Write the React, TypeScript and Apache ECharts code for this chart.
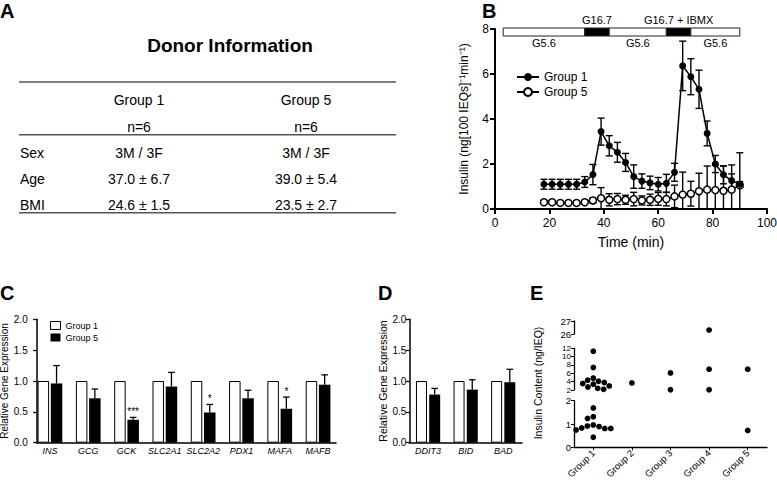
import React, { useEffect, useRef } from 'react';
import * as echarts from 'echarts';

const FONT = '"Liberation Sans", Arial, Helvetica, sans-serif';

// ---------- Panel A: donor information ----------
const tableGroups = ['Group 1', 'Group 5'];
const tableN = ['n=6', 'n=6'];
const rowLabels = ['Sex', 'Age', 'BMI'];
const group1Info = ['3M / 3F', '37.0 ± 6.7', '24.6 ± 1.5'];
const group5Info = ['3M / 3F', '39.0 ± 5.4', '23.5 ± 2.7'];

// ---------- Panel B: perifusion ----------
const timeMin = [18, 21, 24, 27, 30, 33, 36, 39, 42, 45, 48, 51, 54, 57, 60, 63, 66, 69, 72, 75, 78, 81, 84, 87, 90];
const g1Insulin = [1.1, 1.1, 1.1, 1.1, 1.1, 1.2, 1.53, 3.44, 2.81, 2.52, 2.07, 1.44, 1.24, 1.16, 1.1, 1.14, 1.63, 6.36, 5.88, 5.32, 3.36, 2.0, 1.52, 1.26, 1.1];
const g1Sem = [0.22, 0.22, 0.22, 0.22, 0.22, 0.24, 0.45, 0.6, 0.45, 0.44, 0.4, 0.52, 0.32, 0.3, 0.3, 0.4, 0.4, 1.1, 0.8, 0.85, 0.55, 0.38, 0.4, 0.3, 0.12];
const g5Insulin = [0.3, 0.3, 0.27, 0.27, 0.27, 0.3, 0.38, 0.48, 0.41, 0.44, 0.41, 0.44, 0.38, 0.41, 0.45, 0.44, 0.56, 0.64, 0.68, 0.79, 0.86, 0.84, 0.81, 0.86, 1.05];
const g5Sem = [0.08, 0.08, 0.05, 0.05, 0.08, 0.08, 0.1, 0.47, 0.27, 0.25, 0.2, 0.3, 0.2, 0.25, 0.28, 0.3, 0.5, 1.0, 0.55, 0.8, 1.05, 1.1, 1.1, 1.1, 1.45];
const stimStart = [3, 33, 42, 63, 72];
const stimEnd = [33, 42, 63, 72, 90];
const stimLabel = ['G5.6', 'G16.7', 'G5.6', 'G16.7 + IBMX', 'G5.6'];
const stimHigh = [false, true, false, true, false];

// ---------- Panel C ----------
const genesC = ['INS', 'GCG', 'GCK', 'SLC2A1', 'SLC2A2', 'PDX1', 'MAFA', 'MAFB'];
const cGroup1 = [1, 1, 1, 1, 1, 1, 1, 1];
const cGroup5 = [0.96, 0.72, 0.37, 0.91, 0.49, 0.72, 0.55, 0.94];
const cGroup5Err = [0.29, 0.15, 0.04, 0.23, 0.13, 0.13, 0.19, 0.16];
const cSig = ['', '', '***', '', '*', '', '*', ''];

// ---------- Panel D ----------
const genesD = ['DDIT3', 'BID', 'BAD'];
const dGroup1 = [1, 1, 1];
const dGroup5 = [0.78, 0.86, 0.98];
const dGroup5Err = [0.1, 0.16, 0.21];
const dSig = ['', '', ''];

// ---------- Panel E ----------
const groupsE = ['Group 1', 'Group 2', 'Group 3', 'Group 4', 'Group 5'];
const eGroup1 = [11.3, 7.4, 4.85, 4.36, 4.11, 3.79, 3.54, 3.38, 2.98, 2.73, 2.4, 2.16, 1.69, 1.31, 1.24, 0.96, 0.91, 0.89, 0.83, 0.81, 0.81, 0.74, 0.43];
const eGroup2 = [3.7];
const eGroup3 = [6.1, 2.05];
const eGroup4 = [26.3, 7.0, 2.05];
const eGroup5 = [7.0, 0.72];
const eSegMin = [0, 2, 26];
const eSegMax = [2, 12, 27];
const eSegInterval = [1, 2, 1];

// ---------- layout ----------
const gB = { left: 495, top: 29, width: 272, height: 180 };
const gC = { left: 30.8, top: 319.3, width: 306.4, height: 123.4 };
const gCax = { left: 36.7, top: 319.3, width: 299.3, height: 123.4 };
const gD = { left: 409.3, top: 319.3, width: 112.7, height: 123.4 };
const gE = [
  { left: 574, top: 400.7, width: 193, height: 46.6 },
  { left: 574, top: 348.3, width: 193, height: 41.7 },
  { left: 574, top: 321, width: 193, height: 13 },
];

const BLACK = '#000';

function segOf(v: number) {
  if (v < eSegMax[0]) return 0;
  if (v <= eSegMax[1]) return 1;
  return 2;
}
function segPixelY(v: number) {
  const s = segOf(v);
  const g = gE[s];
  return g.top + g.height - ((v - eSegMin[s]) / (eSegMax[s] - eSegMin[s])) * g.height;
}
function swarm(values: number[], d: number) {
  const ys = values.map(segPixelY);
  const order = values.map((_, i) => i).sort((a, b) => ys[a] - ys[b]);
  const placed: { x: number; y: number }[] = [];
  const dx = new Array(values.length).fill(0);
  for (const i of order) {
    const y = ys[i];
    const blockers = placed.filter((p) => Math.abs(p.y - y) < d);
    const cands = [0];
    for (const p of blockers) {
      const w = Math.sqrt(d * d - (p.y - y) * (p.y - y));
      cands.push(p.x - w, p.x + w);
    }
    cands.sort((a, b) => Math.abs(a) - Math.abs(b));
    let chosen = 0;
    for (const c of cands) {
      if (blockers.every((p) => Math.hypot(p.x - c, p.y - y) >= d - 1e-6)) {
        chosen = c;
        break;
      }
    }
    dx[i] = chosen;
    placed.push({ x: chosen, y });
  }
  return dx;
}

function txt(x: number, y: number, text: string, size: number, opts: any = {}) {
  return {
    type: 'text',
    x,
    y,
    rotation: opts.rotation || 0,
    style: {
      text,
      fill: BLACK,
      font: `${opts.bold ? 'bold ' : ''}${size}px ${FONT}`,
      align: opts.align || 'left',
      verticalAlign: opts.va || 'middle',
    },
  };
}

function hline(x1: number, x2: number, y: number) {
  return { type: 'line', shape: { x1, y1: y, x2, y2: y }, style: { stroke: '#555', lineWidth: 1.6 } };
}

function buildOption() {
  const graphic: any[] = [];
  graphic.push(txt(0, 1, 'A', 20, { bold: true, va: 'top' }));
  graphic.push(txt(482, 1, 'B', 20, { bold: true, va: 'top' }));
  graphic.push(txt(0, 283, 'C', 20, { bold: true, va: 'top' }));
  graphic.push(txt(378, 283, 'D', 20, { bold: true, va: 'top' }));
  graphic.push(txt(530, 283, 'E', 20, { bold: true, va: 'top' }));
  graphic.push(txt(230, 45, 'Donor Information', 19, { bold: true, align: 'center' }));
  graphic.push(hline(19, 396, 82));
  graphic.push(hline(19, 396, 134.7));
  graphic.push(hline(19, 396, 212.7));
  const colX = [139, 306];
  tableGroups.forEach((g, i) => graphic.push(txt(colX[i], 100, g, 14, { align: 'center' })));
  tableN.forEach((n, i) => graphic.push(txt(colX[i], 127, n, 14, { align: 'center' })));
  const rowY = [153, 179, 205];
  rowLabels.forEach((r, i) => {
    graphic.push(txt(20, rowY[i], r, 14));
    graphic.push(txt(colX[0], rowY[i], group1Info[i], 14, { align: 'center' }));
    graphic.push(txt(colX[1], rowY[i], group5Info[i], 14, { align: 'center' }));
  });
  graphic.push(txt(538, 383, 'Insulin Content (ng/IEQ)', 10.5, { align: 'center', rotation: Math.PI / 2 }));

  const gridBase = { containLabel: false, outerBoundsMode: 'none' };
  const grid = [gB, gC, gCax, gD, gE[0], gE[1], gE[2]].map((g) => ({ ...gridBase, ...g }));

  const line = (w: number) => ({ show: true, onZero: false, lineStyle: { color: BLACK, width: w } });
  const tick = (len: number, w: number) => ({ show: true, inside: false, length: len, lineStyle: { color: BLACK, width: w } });
  const lab = (size: number, margin: number, extra: any = {}) => ({
    show: true, color: BLACK, fontSize: size, fontFamily: FONT, margin, ...extra,
  });
  const noSplit = { show: false };

  const xAxis: any[] = [
    {
      gridIndex: 0, type: 'value', min: 0, max: 100, interval: 20,
      axisLine: line(2), axisTick: tick(5, 2), axisLabel: lab(12, 8), splitLine: noSplit,
      name: 'Time (min)', nameLocation: 'middle', nameGap: 26,
      nameTextStyle: { color: BLACK, fontSize: 14, fontFamily: FONT },
    },
    {
      gridIndex: 1, type: 'category', data: genesC,
      axisLine: { show: false }, axisTick: { show: false },
      axisLabel: lab(9, 4, { fontStyle: 'italic', interval: 0 }), splitLine: noSplit,
    },
    {
      gridIndex: 2, type: 'value', min: 0, max: 1,
      axisLine: line(1.5), axisTick: { show: false }, axisLabel: { show: false }, splitLine: noSplit,
    },
    {
      gridIndex: 3, type: 'category', data: genesD,
      axisLine: line(1.5), axisTick: { show: false },
      axisLabel: lab(9, 4, { fontStyle: 'italic', interval: 0 }), splitLine: noSplit,
    },
    {
      gridIndex: 4, type: 'category', data: groupsE,
      axisLine: line(1.3), axisTick: { show: true, alignWithLabel: true, length: 3, lineStyle: { color: BLACK, width: 1 } },
      axisLabel: lab(9.5, 4, { rotate: 45, interval: 0 }), splitLine: noSplit,
    },
    { gridIndex: 5, type: 'category', data: groupsE, show: false },
    { gridIndex: 6, type: 'category', data: groupsE, show: false },
  ];

  const yAxis: any[] = [
    {
      gridIndex: 0, type: 'value', min: 0, max: 8, interval: 2,
      axisLine: line(2), axisTick: tick(5, 2), axisLabel: lab(12, 6), splitLine: noSplit,
      name: 'Insulin (ng[100 IEQs]⁻¹min⁻¹)', nameLocation: 'middle', nameGap: 25,
      nameTextStyle: { color: BLACK, fontSize: 12, fontFamily: FONT },
    },
    { gridIndex: 1, type: 'value', min: 0, max: 2, show: false, splitLine: noSplit },
    {
      gridIndex: 2, type: 'value', min: 0, max: 2, interval: 0.5,
      axisLine: line(1.5), axisTick: tick(3.5, 1.3), splitLine: noSplit,
      axisLabel: lab(10, 9, { formatter: (v: number) => v.toFixed(1) }),
      name: 'Relative Gene Expression', nameLocation: 'middle', nameGap: 23,
      nameTextStyle: { color: BLACK, fontSize: 10, fontFamily: FONT },
    },
    {
      gridIndex: 3, type: 'value', min: 0, max: 2, interval: 0.5,
      axisLine: line(1.5), axisTick: tick(3.5, 1.3), splitLine: noSplit,
      axisLabel: lab(10, 3, { formatter: (v: number) => v.toFixed(1) }),
      name: 'Relative Gene Expression', nameLocation: 'middle', nameGap: 17,
      nameTextStyle: { color: BLACK, fontSize: 10.5, fontFamily: FONT },
    },
  ];
  // E: broken y axis, three segments (axis indices 4, 5, 6)
  for (let s = 0; s < 3; s++) {
    const isMid = s === 1;
    yAxis.push({
      gridIndex: 4 + s, type: 'value', min: eSegMin[s], max: eSegMax[s], interval: eSegInterval[s],
      axisLine: line(1.3), axisTick: tick(3, 1), splitLine: noSplit,
      axisLabel: lab(isMid ? 8 : 9.5, 3, {
        lineHeight: isMid ? 8 : 11,
        hideOverlap: false, showMinLabel: true, showMaxLabel: true,
        formatter: isMid
          ? (v: number) => (((v - eSegMin[1]) / eSegInterval[1]) % 2 === 0 ? String(v) : '')
          : (v: number) => String(v),
      }),
    });
  }
  // second label layer for the middle segment (axis index 7): alternate tick labels
  yAxis.push({
    gridIndex: 5, type: 'value', min: eSegMin[1], max: eSegMax[1], interval: eSegInterval[1],
    position: 'left', offset: 0,
    axisLine: { show: false }, axisTick: { show: false }, splitLine: noSplit,
    axisLabel: lab(8, 3, {
      lineHeight: 8,
      hideOverlap: false, showMinLabel: true, showMaxLabel: true,
      formatter: (v: number) => (((v - eSegMin[1]) / eSegInterval[1]) % 2 === 1 ? String(v) : ''),
    }),
  });

  const errB = (vals: number[], sems: number[]) => ({
    type: 'custom', xAxisIndex: 0, yAxisIndex: 0, z: 2, silent: true, clip: false,
    itemStyle: { color: BLACK },
    data: timeMin.map((t, i) => [t, vals[i], sems[i]]),
    encode: { x: 0, y: 1 },
    renderItem: (params: any, api: any) => {
      const t = api.value(0), v = api.value(1), e = api.value(2);
      const lo = Math.max(0, v - e);
      const pTop = api.coord([t, v + e]);
      const pBot = api.coord([t, lo]);
      const hw = 3.5;
      const st = { stroke: BLACK, lineWidth: 1.4 };
      const ch: any[] = [
        { type: 'line', shape: { x1: pTop[0], y1: pTop[1], x2: pBot[0], y2: pBot[1] }, style: st },
        { type: 'line', shape: { x1: pTop[0] - hw, y1: pTop[1], x2: pTop[0] + hw, y2: pTop[1] }, style: st },
      ];
      if (v - e > 0) ch.push({ type: 'line', shape: { x1: pBot[0] - hw, y1: pBot[1], x2: pBot[0] + hw, y2: pBot[1] }, style: st });
      return { type: 'group', children: ch };
    },
  });

  const errBar = (xi: number, yi: number, vals: number[], errs: number[], sig: string[], offset: number) => ({
    type: 'custom', xAxisIndex: xi, yAxisIndex: yi, z: 5, silent: true, clip: false,
    itemStyle: { color: BLACK },
    data: vals.map((v, i) => [i, v, errs[i]]),
    encode: { x: 0, y: 1 },
    renderItem: (params: any, api: any) => {
      const i = api.value(0), v = api.value(1), e = api.value(2);
      const base = api.coord([i, v]);
      const top = api.coord([i, v + e]);
      const x = base[0] + offset;
      const hw = 3.3;
      const st = { stroke: BLACK, lineWidth: 1.3 };
      const ch: any[] = [
        { type: 'line', shape: { x1: x, y1: base[1], x2: x, y2: top[1] }, style: st },
        { type: 'line', shape: { x1: x - hw, y1: top[1], x2: x + hw, y2: top[1] }, style: st },
      ];
      const s = sig[params.dataIndex];
      if (s) {
        ch.push({
          type: 'text', x, y: top[1] - 1,
          style: { text: s, fill: '#000000', font: `10px ${FONT}`, align: 'center', verticalAlign: 'bottom' },
        });
      }
      return { type: 'group', children: ch };
    },
  });

  const barsFor = (xi: number, yi: number, g1: number[], g5: number[], bw: number, gap: string) => [
    {
      type: 'bar', name: 'Group 1', xAxisIndex: xi, yAxisIndex: yi, data: g1, barWidth: bw, barGap: gap,
      itemStyle: { color: '#fff', borderColor: BLACK, borderWidth: 1 }, silent: true, z: 3,
    },
    {
      type: 'bar', name: 'Group 5', xAxisIndex: xi, yAxisIndex: yi, data: g5, barWidth: bw, barGap: gap,
      itemStyle: { color: BLACK }, silent: true, z: 3,
    },
  ];

  const eData = [eGroup1, eGroup2, eGroup3, eGroup4, eGroup5];
  const eSeries: any[] = [];
  const segData: any[][] = [[], [], []];
  eData.forEach((vals, gi) => {
    const dx = swarm(vals, 6);
    vals.forEach((v, k) => segData[segOf(v)].push([gi, v, dx[k]]));
  });
  for (let s = 0; s < 3; s++) {
    eSeries.push({
      type: 'custom', xAxisIndex: 4 + s, yAxisIndex: 4 + s, silent: true, clip: false, z: 4,
      itemStyle: { color: BLACK },
      data: segData[s], encode: { x: 0, y: 1 },
      renderItem: (params: any, api: any) => {
        const c = api.coord([api.value(0), api.value(1)]);
        return { type: 'circle', shape: { cx: c[0] + api.value(2), cy: c[1], r: 2.9 }, style: { fill: BLACK } };
      },
    });
  }

  const series: any[] = [
    {
      type: 'line', name: 'Group 1', xAxisIndex: 0, yAxisIndex: 0, z: 4, silent: true,
      data: timeMin.map((t, i) => [t, g1Insulin[i]]),
      symbol: 'circle', symbolSize: 7, showSymbol: true,
      itemStyle: { color: BLACK }, lineStyle: { color: BLACK, width: 1.5 },
    },
    {
      type: 'line', name: 'Group 5', xAxisIndex: 0, yAxisIndex: 0, z: 3, silent: true,
      data: timeMin.map((t, i) => [t, g5Insulin[i]]),
      symbol: 'circle', symbolSize: 7, showSymbol: true,
      itemStyle: { color: '#fff', borderColor: BLACK, borderWidth: 1.5 }, lineStyle: { color: BLACK, width: 1.5 },
    },
    errB(g5Insulin, g5Sem),
    errB(g1Insulin, g1Sem),
    {
      type: 'custom', xAxisIndex: 0, yAxisIndex: 0, silent: true, clip: false, z: 5,
      itemStyle: { color: BLACK },
      data: stimStart.map((s, i) => [s, stimEnd[i], 0]),
      encode: { x: [0, 1], y: 2 },
      renderItem: (params: any, api: any) => {
        const i = params.dataIndex;
        const x0 = api.coord([api.value(0), 0])[0];
        const x1 = api.coord([api.value(1), 0])[0];
        const top = params.coordSys.y - 1;
        const h = 8;
        const high = stimHigh[i];
        return {
          type: 'group',
          children: [
            { type: 'rect', shape: { x: x0, y: top, width: x1 - x0, height: h }, style: { fill: high ? BLACK : '#fff', stroke: '#222', lineWidth: 1 } },
            {
              type: 'text', x: (x0 + x1) / 2, y: high ? top - 2.5 : top + h + 1.5,
              style: { text: stimLabel[i], fill: BLACK, font: `11px ${FONT}`, align: 'center', verticalAlign: high ? 'bottom' : 'top' },
            },
          ],
        };
      },
    },
    ...barsFor(1, 1, cGroup1, cGroup5, 11.5, '15%'),
    errBar(1, 1, cGroup5, cGroup5Err, cSig, 6.6),
    ...barsFor(3, 3, dGroup1, dGroup5, 11, '20%'),
    errBar(3, 3, dGroup5, dGroup5Err, dSig, 6.6),
    ...eSeries,
  ];

  const legend: any[] = [
    {
      left: 511, top: 66, orient: 'vertical', itemWidth: 22, itemHeight: 10, itemGap: 3,
      selectedMode: false, data: ['Group 1', 'Group 5'],
      textStyle: { color: BLACK, fontSize: 12, fontFamily: FONT },
    },
    {
      left: 45, top: 316, orient: 'vertical', itemWidth: 10, itemHeight: 8, itemGap: 3,
      selectedMode: false,
      data: [
        { name: 'Group 1', icon: 'rect', itemStyle: { color: '#fff', borderColor: BLACK, borderWidth: 1 } },
        { name: 'Group 5', icon: 'rect', itemStyle: { color: BLACK, borderWidth: 0 } },
      ],
      textStyle: { color: BLACK, fontSize: 9, fontFamily: FONT },
    },
  ];

  return {
    animation: false,
    backgroundColor: '#fff',
    textStyle: { fontFamily: FONT },
    grid, xAxis, yAxis, series, legend, graphic,
  };
}

export default function App() {
  const ref = useRef<HTMLDivElement>(null);
  useEffect(() => {
    const chart = echarts.init(ref.current!, null, { renderer: 'svg' });
    chart.setOption(buildOption() as any);
    return () => chart.dispose();
  }, []);
  return (
    <div
      ref={ref}
      style={{ position: 'fixed', left: 0, top: 0, width: 777, height: 483, background: '#fff' }}
    />
  );
}
